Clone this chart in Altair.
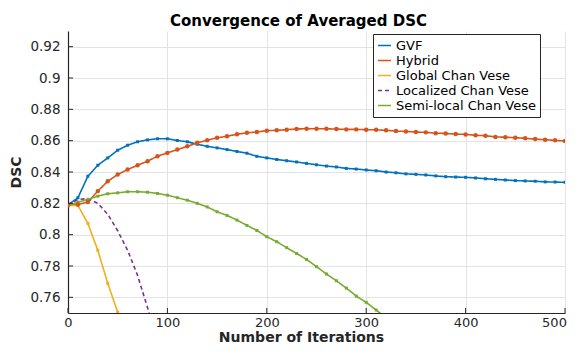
import altair as alt
import pandas as pd

iters = list(range(0, 510, 10))

gvf = [0.8190, 0.8236, 0.8373, 0.8443, 0.8490, 0.8539, 0.8571, 0.8593, 0.8605, 0.8612,
       0.8612, 0.8601, 0.8593, 0.8577, 0.8564, 0.8554, 0.8543, 0.8531, 0.8520, 0.8500,
       0.8490, 0.8480, 0.8472, 0.8464, 0.8455, 0.8446, 0.8438, 0.8432, 0.8423, 0.8419,
       0.8413, 0.8408, 0.8400, 0.8395, 0.8388, 0.8385, 0.8381, 0.8375, 0.8370, 0.8368,
       0.8366, 0.8362, 0.8357, 0.8353, 0.8349, 0.8345, 0.8343, 0.8341, 0.8337, 0.8336,
       0.8334]

hybrid = [0.8188, 0.8193, 0.8208, 0.8278, 0.8341, 0.8384, 0.8416, 0.8443, 0.8469, 0.8501,
          0.8522, 0.8543, 0.8564, 0.8586, 0.8603, 0.8618, 0.8628, 0.8641, 0.8650, 0.8655,
          0.8664, 0.8666, 0.8670, 0.8675, 0.8676, 0.8676, 0.8676, 0.8674, 0.8672, 0.8672,
          0.8670, 0.8669, 0.8666, 0.8661, 0.8659, 0.8655, 0.8653, 0.8648, 0.8646, 0.8642,
          0.8640, 0.8634, 0.8632, 0.8624, 0.8622, 0.8619, 0.8615, 0.8610, 0.8606, 0.8602,
          0.8598]

global_iters = [0, 10, 20, 30, 40, 50, 60]
global_cv = [0.8188, 0.8186, 0.8072, 0.7900, 0.7689, 0.7505, 0.7280]

local_iters = [0, 10, 20, 30, 40, 50, 60, 70, 80, 90]
local_cv = [0.8190, 0.8225, 0.8230, 0.8200, 0.8130, 0.8025, 0.7900, 0.7740, 0.7535, 0.7300]

semi_iters = list(range(0, 330, 10))
semi_cv = [0.8186, 0.8208, 0.8225, 0.8246, 0.8261, 0.8267, 0.8274, 0.8274, 0.8271, 0.8263,
           0.8252, 0.8236, 0.8220, 0.8200, 0.8177, 0.8146, 0.8123, 0.8093, 0.8059, 0.8027,
           0.7987, 0.7955, 0.7917, 0.7880, 0.7842, 0.7796, 0.7749, 0.7706, 0.7659, 0.7608,
           0.7568, 0.7519, 0.7468]

series_names = ["GVF", "Hybrid", "Global Chan Vese", "Localized Chan Vese", "Semi-local Chan Vese"]
series_colors = ["#0072BD", "#D95319", "#EDB120", "#7E2F8E", "#77AC30"]
series_dash = [[1, 0], [1, 0], [1, 0], [4, 3], [1, 0]]

x_ticks = [0, 100, 200, 300, 400, 500]
y_ticks = [0.76, 0.78, 0.80, 0.82, 0.84, 0.86, 0.88, 0.90, 0.92]

rows = []
for name, xs, ys in [("GVF", iters, gvf), ("Hybrid", iters, hybrid),
                     ("Global Chan Vese", global_iters, global_cv),
                     ("Localized Chan Vese", local_iters, local_cv),
                     ("Semi-local Chan Vese", semi_iters, semi_cv)]:
    for xv, yv in zip(xs, ys):
        rows.append({"iter": xv, "dsc": yv, "series": name})
df = pd.DataFrame(rows)

FONT = "DejaVu Sans"
W, H = 497, 282

xscale = alt.Scale(domain=[0, 500], nice=False)
yscale = alt.Scale(domain=[0.75, 0.93], nice=False, zero=False)
cscale = alt.Scale(domain=series_names, range=series_colors)
dscale = alt.Scale(domain=series_names, range=series_dash)

x_axis = alt.Axis(values=x_ticks, title="Number of Iterations", ticks=False, tickSize=0,
                  labelPadding=3, labelFontSize=13, labelFlush=False, labelOverlap=False,
                  labelOffset={"condition": {"test": "datum.value == 500", "value": -11}, "value": 0},
                  titleX=233, titleY=28, titleBaseline="alphabetic", titleAlign="center")
y_axis = alt.Axis(values=y_ticks, title="DSC", format="~g", ticks=False, tickSize=0,
                  labelPadding=8, labelFlush=False, labelOverlap=False,
                  titleX=-52, titleY=141, titleAngle=270,
                  titleBaseline="middle", titleAlign="center")

legend = alt.Legend(title=None, orient="none", legendX=305, legendY=3,
                    symbolType="stroke", symbolSize=169, symbolStrokeWidth=1.6,
                    labelFont=FONT, labelFontSize=13, labelColor="#000000",
                    strokeColor="#262626", fillColor="#ffffff", padding=4,
                    rowPadding=0, labelOffset=4)

X = alt.X("iter:Q", scale=xscale, axis=x_axis)
Y = alt.Y("dsc:Q", scale=yscale, axis=y_axis)

lines = alt.Chart(df).mark_line(strokeWidth=1.6, clip=True).encode(
    x=X, y=Y,
    color=alt.Color("series:N", scale=cscale, legend=legend, sort=series_names),
    strokeDash=alt.StrokeDash("series:N", scale=dscale, legend=legend, sort=series_names),
    detail="series:N",
)

small_pts = alt.Chart(df).transform_filter(
    alt.FieldOneOfPredicate(field="series", oneOf=["GVF", "Global Chan Vese", "Semi-local Chan Vese"])
).mark_point(filled=True, size=9, opacity=1, clip=True, shape="square").encode(
    x=X, y=Y,
    color=alt.Color("series:N", scale=cscale, legend=None),
)

big_pts = alt.Chart(df).transform_filter(
    alt.FieldEqualPredicate(field="series", equal="Hybrid")
).mark_point(filled=True, size=20, opacity=1, clip=True).encode(
    x=X, y=Y,
    color=alt.Color("series:N", scale=cscale, legend=None),
)

xt = pd.DataFrame({"t": x_ticks})
yt = pd.DataFrame({"t": y_ticks})
xtick_marks = alt.Chart(xt).mark_rule(color="#262626", strokeWidth=1).encode(
    x=alt.X("t:Q", scale=xscale, axis=x_axis), y=alt.value(H), y2=alt.value(H - 5))
ytick_marks = alt.Chart(yt).mark_rule(color="#262626", strokeWidth=1).encode(
    y=alt.Y("t:Q", scale=yscale, axis=y_axis), x=alt.value(0), x2=alt.value(5))

chart = alt.layer(lines, small_pts, big_pts, xtick_marks, ytick_marks).resolve_scale(
    color="shared"
).properties(
    width=W, height=H,
    padding={"left": 60, "top": 23, "right": 2, "bottom": 31},
    autosize=alt.AutoSizeParams(type="none"),
    background="#ffffff",
    title=alt.TitleParams(text="Convergence of Averaged DSC", font=FONT, fontSize=15,
                          fontWeight="bold", color="#000000", anchor="middle",
                          frame="group", dx=-18, dy=16, offset=6, baseline="alphabetic"),
).configure_view(stroke=None).configure_axis(
    labelFont=FONT, labelFontSize=13.5, labelColor="#262626",
    titleFont=FONT, titleFontSize=14, titleFontWeight="bold", titleColor="#262626",
    domainColor="#262626", domainWidth=1.2,
    gridColor="#e3e3e3", gridWidth=1,
)

chart.save("out.html", embed_options={"renderer": "svg", "actions": False})
